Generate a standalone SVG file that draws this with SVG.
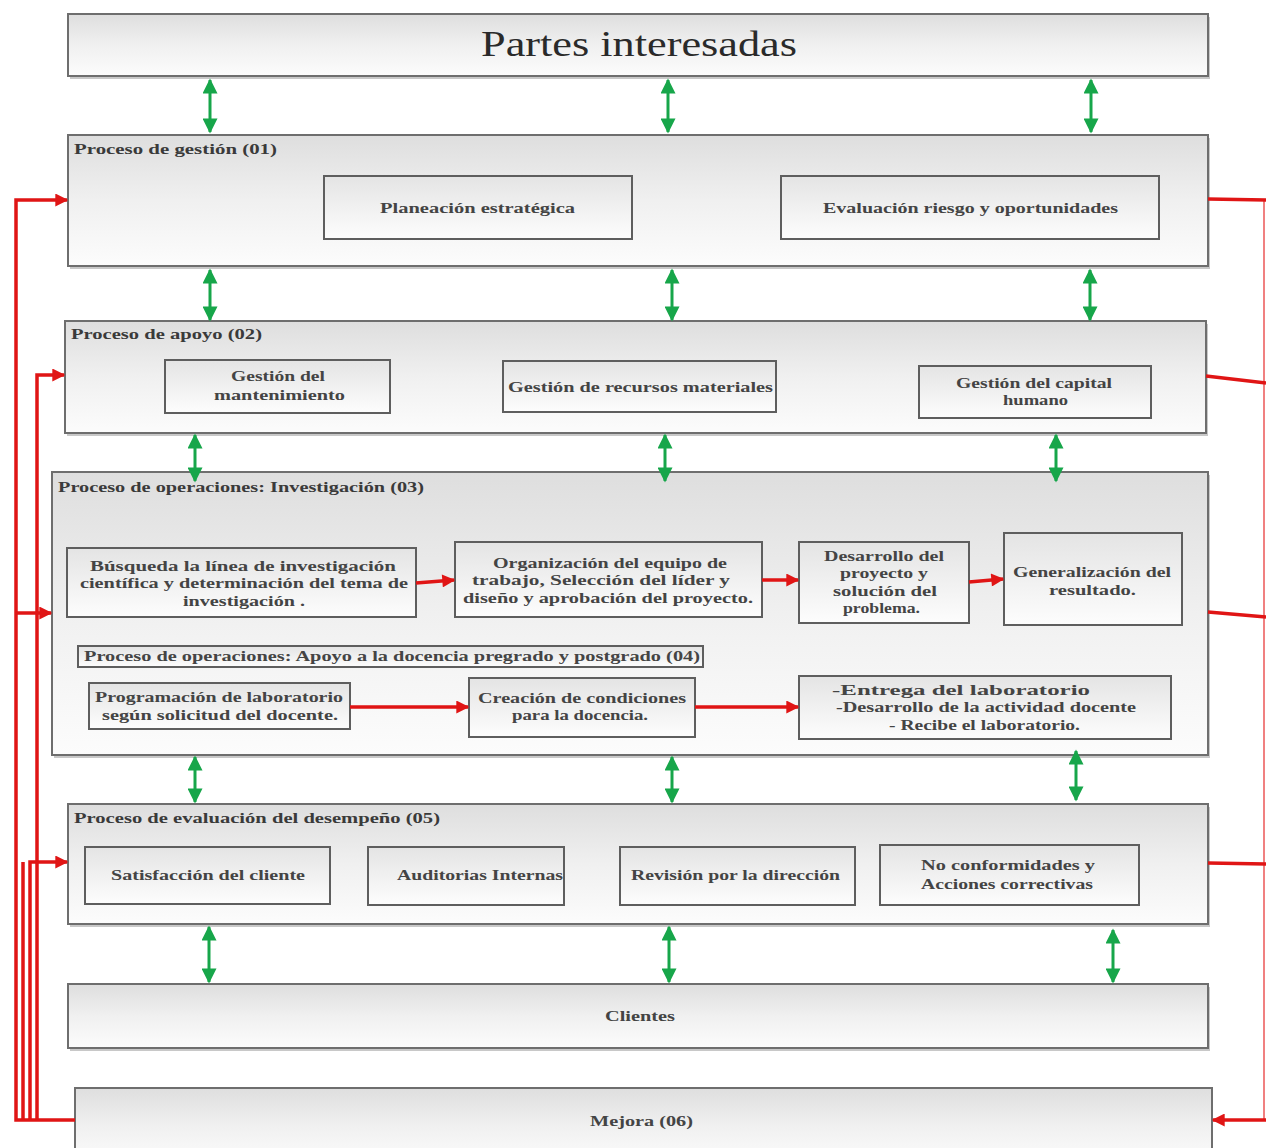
<svg xmlns="http://www.w3.org/2000/svg" width="1266" height="1148" viewBox="0 0 1266 1148">
<defs>
<linearGradient id="g" x1="0" y1="0" x2="0" y2="1">
<stop offset="0" stop-color="#dedede"/>
<stop offset="0.5" stop-color="#f0f0f0"/>
<stop offset="1" stop-color="#fcfcfc"/>
</linearGradient>
<linearGradient id="gi" x1="0" y1="0" x2="0" y2="1">
<stop offset="0" stop-color="#e4e4e4"/>
<stop offset="1" stop-color="#fdfdfd"/>
</linearGradient>
<marker id="ga" viewBox="0 0 10 10" refX="9" refY="5" markerWidth="16" markerHeight="15" markerUnits="userSpaceOnUse" orient="auto-start-reverse">
<path d="M0,0 L10,5 L0,10 z" fill="#17a64a"/>
</marker>
<marker id="ra" viewBox="0 0 10 10" refX="9" refY="5" markerWidth="15" markerHeight="13" markerUnits="userSpaceOnUse" orient="auto">
<path d="M0,0 L10,5 L0,10 z" fill="#e01515"/>
</marker>
</defs>
<style>
.ob{fill:url(#g);stroke:#6e6e6e;stroke-width:2}
.ib{fill:url(#gi);stroke:#5e5e5e;stroke-width:2}
.sh{fill:#c8c8c8}
.t{font-family:"Liberation Serif",serif;font-weight:bold;font-size:15px;fill:#444}
.tt{font-family:"Liberation Serif",serif;font-weight:bold;font-size:15px;fill:#3a3a3a}
.big{font-family:"Liberation Serif",serif;font-size:36px;fill:#2a2a2a}
.gl{stroke:#17a64a;stroke-width:3;fill:none;marker-start:url(#ga);marker-end:url(#ga)}
.rl{stroke:#e01515;stroke-width:3.5;fill:none}
.rla{stroke:#e01515;stroke-width:3.5;fill:none;marker-end:url(#ra)}
.rp{stroke:#f08080;stroke-width:2;fill:none}
</style>
<rect width="1266" height="1148" fill="#ffffff"/>

<g id="partes">
<rect class="sh" x="70" y="17" width="1140" height="62"/>
<rect class="ob" x="68" y="14" width="1140" height="62"/>
<text class="big" x="481" y="56" textLength="316" lengthAdjust="spacingAndGlyphs">Partes interesadas</text>
</g>

<g id="gestion">
<rect class="sh" x="70" y="138" width="1140" height="131"/>
<rect class="ob" x="68" y="135" width="1140" height="131"/>
<text class="tt" x="74" y="154" textLength="203" lengthAdjust="spacingAndGlyphs">Proceso de gestión (01)</text>
<g id="planeacion">
<rect class="ib" x="324" y="176" width="308" height="63"/>
<text class="t" x="380" y="213" textLength="195" lengthAdjust="spacingAndGlyphs">Planeación  estratégica</text>
</g>
<g id="evaluacion-riesgo">
<rect class="ib" x="781" y="176" width="378" height="63"/>
<text class="t" x="823" y="213" textLength="295" lengthAdjust="spacingAndGlyphs">Evaluación riesgo y oportunidades</text>
</g>
</g>

<g id="apoyo">
<rect class="sh" x="67" y="324" width="1141" height="112"/>
<rect class="ob" x="65" y="321" width="1141" height="112"/>
<text class="tt" x="71" y="339" textLength="191" lengthAdjust="spacingAndGlyphs">Proceso de apoyo (02)</text>
<g id="mantenimiento">
<rect class="ib" x="165" y="360" width="225" height="53"/>
<text class="t" x="231" y="381" textLength="94" lengthAdjust="spacingAndGlyphs">Gestión del</text>
<text class="t" x="214" y="400" textLength="131" lengthAdjust="spacingAndGlyphs">mantenimiento</text>
</g>
<g id="recursos">
<rect class="ib" x="503" y="361" width="273" height="51"/>
<text class="t" x="508" y="392" textLength="265" lengthAdjust="spacingAndGlyphs">Gestión de recursos materiales</text>
</g>
<g id="capital">
<rect class="ib" x="919" y="366" width="232" height="52"/>
<text class="t" x="956" y="388" textLength="156" lengthAdjust="spacingAndGlyphs">Gestión del capital</text>
<text class="t" x="1003" y="405" textLength="65" lengthAdjust="spacingAndGlyphs">humano</text>
</g>
</g>

<g id="operaciones">
<rect class="sh" x="54" y="475" width="1156" height="283"/>
<rect class="ob" x="52" y="472" width="1156" height="283"/>
<text class="tt" x="58" y="492" textLength="366" lengthAdjust="spacingAndGlyphs">Proceso de operaciones: Investigación (03)</text>
<g id="busqueda">
<rect class="ib" x="67" y="548" width="349" height="69"/>
<text class="t" x="90" y="571" textLength="306" lengthAdjust="spacingAndGlyphs">Búsqueda la línea de investigación</text>
<text class="t" x="80" y="588" textLength="328" lengthAdjust="spacingAndGlyphs">científica y determinación del tema de</text>
<text class="t" x="183" y="606" textLength="122" lengthAdjust="spacingAndGlyphs">investigación .</text>
</g>
<g id="organizacion">
<rect class="ib" x="455" y="542" width="307" height="75"/>
<text class="t" x="493" y="568" textLength="234" lengthAdjust="spacingAndGlyphs">Organización del equipo de</text>
<text class="t" x="472" y="585" textLength="258" lengthAdjust="spacingAndGlyphs">trabajo, Selección del líder  y</text>
<text class="t" x="463" y="603" textLength="290" lengthAdjust="spacingAndGlyphs">diseño y aprobación del proyecto.</text>
</g>
<g id="desarrollo">
<rect class="ib" x="799" y="542" width="170" height="81"/>
<text class="t" x="824" y="561" textLength="120" lengthAdjust="spacingAndGlyphs">Desarrollo del</text>
<text class="t" x="840" y="578" textLength="88" lengthAdjust="spacingAndGlyphs">proyecto y</text>
<text class="t" x="833" y="596" textLength="104" lengthAdjust="spacingAndGlyphs">solución del</text>
<text class="t" x="843" y="613" textLength="77" lengthAdjust="spacingAndGlyphs">problema.</text>
</g>
<g id="generalizacion">
<rect class="ib" x="1004" y="533" width="178" height="92"/>
<text class="t" x="1013" y="577" textLength="158" lengthAdjust="spacingAndGlyphs">Generalización del</text>
<text class="t" x="1049" y="595" textLength="87" lengthAdjust="spacingAndGlyphs">resultado.</text>
</g>
<g id="docencia-label">
<rect class="ib" x="78" y="646" width="625" height="21"/>
<text class="t" x="84" y="661" textLength="616" lengthAdjust="spacingAndGlyphs">Proceso de operaciones: Apoyo a la docencia pregrado y postgrado (04)</text>
</g>
<g id="programacion">
<rect class="ib" x="89" y="683" width="261" height="46"/>
<text class="t" x="95" y="702" textLength="248" lengthAdjust="spacingAndGlyphs">Programación de laboratorio</text>
<text class="t" x="102" y="720" textLength="236" lengthAdjust="spacingAndGlyphs">según solicitud del docente.</text>
</g>
<g id="creacion">
<rect class="ib" x="469" y="678" width="226" height="59"/>
<text class="t" x="478" y="703" textLength="208" lengthAdjust="spacingAndGlyphs">Creación de condiciones</text>
<text class="t" x="512" y="720" textLength="136" lengthAdjust="spacingAndGlyphs">para la docencia.</text>
</g>
<g id="entrega">
<rect class="ib" x="799" y="676" width="372" height="63"/>
<text class="t" x="832" y="695" textLength="258" lengthAdjust="spacingAndGlyphs">-Entrega del laboratorio</text>
<text class="t" x="836" y="712" textLength="300" lengthAdjust="spacingAndGlyphs">-Desarrollo de la actividad docente</text>
<text class="t" x="889" y="730" textLength="191" lengthAdjust="spacingAndGlyphs">- Recibe el laboratorio.</text>
</g>
</g>

<g id="evaluacion">
<rect class="sh" x="70" y="807" width="1140" height="120"/>
<rect class="ob" x="68" y="804" width="1140" height="120"/>
<text class="tt" x="74" y="823" textLength="366" lengthAdjust="spacingAndGlyphs">Proceso de evaluación del desempeño (05)</text>
<g id="satisfaccion">
<rect class="ib" x="85" y="847" width="245" height="57"/>
<text class="t" x="111" y="880" textLength="194" lengthAdjust="spacingAndGlyphs">Satisfacción del cliente</text>
</g>
<g id="auditorias">
<rect class="ib" x="368" y="847" width="196" height="58"/>
<text class="t" x="397" y="880" textLength="166" lengthAdjust="spacingAndGlyphs">Auditorias Internas</text>
</g>
<g id="revision">
<rect class="ib" x="620" y="847" width="235" height="58"/>
<text class="t" x="631" y="880" textLength="209" lengthAdjust="spacingAndGlyphs">Revisión por la dirección</text>
</g>
<g id="noconformidades">
<rect class="ib" x="880" y="845" width="259" height="60"/>
<text class="t" x="921" y="870" textLength="174" lengthAdjust="spacingAndGlyphs">No conformidades y</text>
<text class="t" x="921" y="889" textLength="172" lengthAdjust="spacingAndGlyphs">Acciones correctivas</text>
</g>
</g>

<g id="clientes">
<rect class="sh" x="70" y="987" width="1140" height="64"/>
<rect class="ob" x="68" y="984" width="1140" height="64"/>
<text class="t" x="605" y="1021" textLength="70" lengthAdjust="spacingAndGlyphs">Clientes</text>
</g>

<g id="mejora">
<rect class="ob" x="75" y="1088" width="1137" height="75"/>
<text class="t" x="590" y="1126" textLength="103" lengthAdjust="spacingAndGlyphs">Mejora (06)</text>
</g>

<g id="connectors">
<line class="gl" x1="210" y1="80" x2="210" y2="132"/>
<line class="gl" x1="668" y1="80" x2="668" y2="132"/>
<line class="gl" x1="1091" y1="80" x2="1091" y2="132"/>
<line class="gl" x1="210" y1="270" x2="210" y2="320"/>
<line class="gl" x1="672" y1="270" x2="672" y2="320"/>
<line class="gl" x1="1090" y1="270" x2="1090" y2="320"/>
<line class="gl" x1="195" y1="435" x2="195" y2="481"/>
<line class="gl" x1="665" y1="435" x2="665" y2="481"/>
<line class="gl" x1="1056" y1="435" x2="1056" y2="481"/>
<line class="gl" x1="195" y1="757" x2="195" y2="802"/>
<line class="gl" x1="672" y1="757" x2="672" y2="802"/>
<line class="gl" x1="1076" y1="751" x2="1076" y2="800"/>
<line class="gl" x1="209" y1="927" x2="209" y2="982"/>
<line class="gl" x1="669" y1="927" x2="669" y2="982"/>
<line class="gl" x1="1113" y1="930" x2="1113" y2="982"/>

<line class="rla" x1="416" y1="583" x2="454" y2="580"/>
<line class="rla" x1="762" y1="580" x2="798" y2="580"/>
<line class="rla" x1="969" y1="582" x2="1003" y2="579"/>
<line class="rla" x1="350" y1="707" x2="468" y2="707"/>
<line class="rla" x1="695" y1="707" x2="798" y2="707"/>

<path class="rla" d="M75,1120 H16 V200 H67"/>
<path class="rla" d="M37,1120 V375 H64"/>
<line class="rla" x1="16" y1="613" x2="51" y2="613"/>
<path class="rla" d="M30,1120 V862 H67"/>
<line class="rl" x1="23" y1="862" x2="23" y2="1120"/>

<line class="rp" x1="1264" y1="200" x2="1264" y2="1120"/>
<line class="rl" x1="1208" y1="199" x2="1266" y2="200"/>
<line class="rl" x1="1206" y1="376" x2="1266" y2="383"/>
<line class="rl" x1="1208" y1="612" x2="1266" y2="617"/>
<line class="rl" x1="1208" y1="863" x2="1266" y2="864"/>
<line class="rla" x1="1266" y1="1120" x2="1213" y2="1120"/>
</g>
</svg>
